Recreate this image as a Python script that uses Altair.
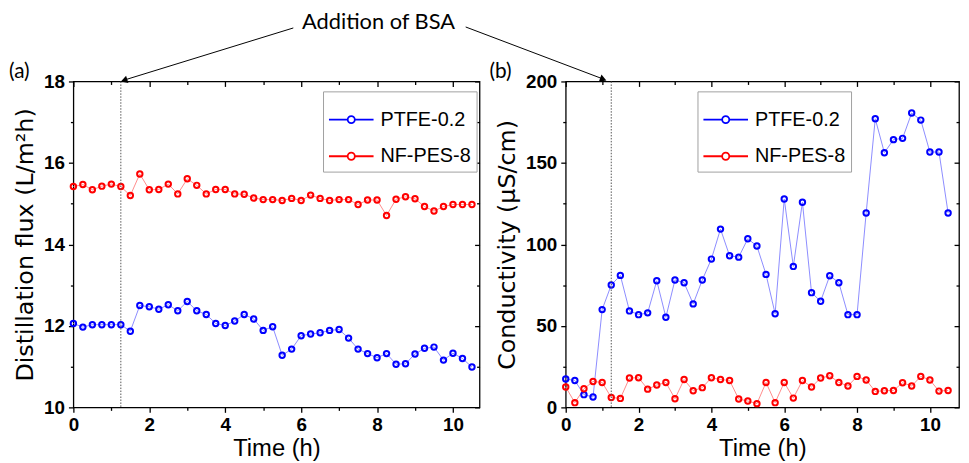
import altair as alt
import pandas as pd

# ---------------- data ----------------
time_h = [0.0, 0.25, 0.5, 0.75, 1.0, 1.25, 1.5, 1.75, 2.0, 2.25, 2.5, 2.75,
          3.0, 3.25, 3.5, 3.75, 4.0, 4.25, 4.5, 4.75, 5.0, 5.25, 5.5, 5.75,
          6.0, 6.25, 6.5, 6.75, 7.0, 7.25, 7.5, 7.75, 8.0, 8.25, 8.5, 8.75,
          9.0, 9.25, 9.5, 9.75, 10.0, 10.25, 10.5]

flux_ptfe = [12.06, 11.97, 12.03, 12.03, 12.03, 12.03, 11.87, 12.50, 12.47, 12.41,
             12.52, 12.37, 12.60, 12.37, 12.28, 12.06, 12.01, 12.12, 12.28, 12.17,
             11.89, 11.98, 11.28, 11.43, 11.76, 11.80, 11.83, 11.89, 11.91, 11.70,
             11.43, 11.32, 11.22, 11.32, 11.06, 11.07, 11.31, 11.45, 11.48, 11.16,
             11.33, 11.20, 10.99]

flux_nfpes = [15.42, 15.47, 15.34, 15.43, 15.48, 15.42, 15.20, 15.73, 15.34, 15.35,
              15.48, 15.24, 15.61, 15.45, 15.24, 15.35, 15.35, 15.24, 15.23, 15.14,
              15.10, 15.10, 15.08, 15.13, 15.08, 15.21, 15.13, 15.08, 15.10, 15.10,
              14.98, 15.09, 15.09, 14.71, 15.11, 15.17, 15.12, 14.93, 14.82, 14.93,
              14.98, 14.98, 14.98]

cond_ptfe = [17.4, 16.5, 7.8, 6.4, 60.0, 75.1, 81.0, 59.2, 56.9, 58.0,
             77.7, 55.3, 78.2, 76.5, 63.5, 78.2, 91.0, 109.4, 93.0, 92.2,
             103.5, 99.0, 81.6, 57.5, 127.9, 86.5, 125.9, 70.4, 65.1, 80.8,
             76.5, 56.9, 56.9, 119.3, 177.1, 156.3, 164.3, 165.1, 180.6, 176.3,
             156.7, 156.7, 119.3]

cond_nfpes = [12.5, 2.9, 11.4, 15.9, 15.3, 6.1, 5.5, 18.0, 18.2, 11.2,
              13.7, 15.3, 5.3, 17.1, 10.2, 12.1, 18.2, 17.1, 16.5, 5.1,
              3.9, 2.3, 15.3, 2.9, 15.3, 5.7, 16.5, 12.5, 18.0, 19.4,
              15.3, 13.1, 19.0, 16.8, 9.8, 10.2, 10.4, 15.1, 13.1, 19.0,
              16.8, 10.0, 10.4]

series_names = ["PTFE-0.2", "NF-PES-8"]
point_colors = ["#0000ff", "#ff0000"]
line_colors = ["#8c8cff", "#ff8c8c"]
bsa_time = [1.25]

x_major = [0, 2, 4, 6, 8, 10]
x_minor = [1, 3, 5, 7, 9]
flux_major = [10, 12, 14, 16, 18]
flux_minor = [11, 13, 15, 17]
cond_major = [0, 50, 100, 150, 200]
cond_minor = [25, 75, 125, 175]

LEGEND_SYMBOL = ("M-1,0L-0.16,0M0.16,0L1,0"
                 "M-0.16,0A0.16,0.16 0 1,0 0.16,0A0.16,0.16 0 1,0 -0.16,0")

H = 329


def long_df(a, b):
    return pd.DataFrame({
        "time": time_h + time_h,
        "value": a + b,
        "series": [series_names[0]] * len(a) + [series_names[1]] * len(b),
    })


def panel(df, xdom, ydom, w, ymaj, ymin, ytitle, legx, legy, extra):
    xs = alt.Scale(domain=xdom, nice=False, zero=False)
    ys = alt.Scale(domain=ydom, nice=False, zero=False)
    base = alt.Chart(df)

    lines = base.mark_line(strokeWidth=1).encode(
        x=alt.X("time:Q", scale=xs, axis=None),
        y=alt.Y("value:Q", scale=ys, axis=None),
        color=alt.Color("series:N", sort=series_names,
                        scale=alt.Scale(domain=series_names, range=line_colors),
                        legend=None),
    )
    pts = base.mark_point(filled=False, size=30, strokeWidth=2, opacity=1).encode(
        x=alt.X("time:Q", scale=xs,
                axis=alt.Axis(values=x_major, title="Time (h)", orient="bottom",
                              tickSize=5, labelPadding=3, titlePadding=3,
                              format="d", labelFlush=False)),
        y=alt.Y("value:Q", scale=ys,
                axis=alt.Axis(values=ymaj, title=ytitle, orient="left",
                              tickSize=5, labelPadding=4, titlePadding=6,
                              titleFont="DejaVu Sans", titleFontSize=24,
                              format="d", labelFlush=False)),
        color=alt.Color("series:N", sort=series_names,
                        scale=alt.Scale(domain=series_names, range=point_colors),
                        legend=alt.Legend(title=None, orient="none",
                                          legendX=legx, legendY=legy,
                                          symbolType=LEGEND_SYMBOL,
                                          symbolSize=2025, symbolStrokeWidth=1.8,
                                          labelFont="Liberation Sans",
                                          labelFontSize=20, labelColor="black",
                                          labelOffset=6, rowPadding=3,
                                          padding=5, strokeColor="#a0a0a0",
                                          fillColor="white")),
    )
    minor_out = base.mark_point(opacity=0).encode(
        x=alt.X("time:Q", scale=xs,
                axis=alt.Axis(values=x_minor, orient="bottom", tickSize=3,
                              labels=False, title=None)),
        y=alt.Y("value:Q", scale=ys,
                axis=alt.Axis(values=ymin, orient="left", tickSize=3,
                              labels=False, title=None)),
    )
    major_in = base.mark_point(opacity=0).encode(
        x=alt.X("time:Q", scale=xs,
                axis=alt.Axis(values=x_major, orient="top", tickSize=5, offset=-5,
                              labels=False, title=None)),
        y=alt.Y("value:Q", scale=ys,
                axis=alt.Axis(values=ymaj, orient="right", tickSize=5, offset=-5,
                              labels=False, title=None)),
    )
    minor_in = base.mark_point(opacity=0).encode(
        x=alt.X("time:Q", scale=xs,
                axis=alt.Axis(values=x_minor, orient="top", tickSize=3, offset=-3,
                              labels=False, title=None)),
        y=alt.Y("value:Q", scale=ys,
                axis=alt.Axis(values=ymin, orient="right", tickSize=3, offset=-3,
                              labels=False, title=None)),
    )
    bsa = alt.Chart(pd.DataFrame({"t": bsa_time})).mark_rule(
        color="#555555", strokeWidth=1, strokeDash=[1.5, 1.5]
    ).encode(x=alt.X("t:Q", scale=xs, axis=None))

    layers = [lines, pts, minor_out, major_in, minor_in, bsa] + extra
    return alt.layer(*layers).resolve_scale(color="independent").resolve_axis(
        x="independent", y="independent").properties(width=w, height=H)


ann = alt.Chart(pd.DataFrame({"k": [0]}))
left_extra = [
    ann.mark_text(text="(a)", font="Lato", fontSize=21, align="left",
                  baseline="top", color="black").encode(
        x=alt.value(-65), y=alt.value(-20)),
    ann.mark_text(text="Addition of BSA", font="Lato", fontSize=22,
                  align="center", baseline="middle", color="black").encode(
        x=alt.value(308), y=alt.value(-60)),
    ann.mark_rule(color="black", strokeWidth=1).encode(
        x=alt.value(222), y=alt.value(-54), x2=alt.value(50), y2=alt.value(-1)),
    ann.mark_rule(color="black", strokeWidth=1).encode(
        x=alt.value(396), y=alt.value(-55), x2=alt.value(536), y2=alt.value(-2)),
    ann.mark_point(shape="triangle-up", filled=True, size=60, angle=252,
                   color="black", opacity=1).encode(
        x=alt.value(51.2), y=alt.value(-1.0)),
    ann.mark_point(shape="triangle-up", filled=True, size=60, angle=110,
                   color="black", opacity=1).encode(
        x=alt.value(534.9), y=alt.value(-2.2)),
]
right_extra = [
    ann.mark_text(text="(b)", font="Lato", fontSize=21, align="left",
                  baseline="top", color="black").encode(
        x=alt.value(-77), y=alt.value(-20)),
]

left = panel(long_df(flux_ptfe, flux_nfpes), [0, 10.7], [10, 18], 410,
             flux_major, flux_minor, "Distillation flux (L/m²h)", 252, 10,
             left_extra)
right = panel(long_df(cond_ptfe, cond_nfpes), [0, 10.8], [0, 200], 397,
              cond_major, cond_minor, "Conductivity (μS/cm)", 133, 10,
              right_extra)

chart = alt.hconcat(left, right, spacing=87, bounds="flush").properties(
    padding={"left": 0, "top": 0, "right": 0, "bottom": 0}
).configure_view(stroke="black", strokeWidth=1.3).configure_axis(
    labelFont="Liberation Sans", labelFontSize=19, labelFontWeight="bold",
    labelColor="black", titleFont="Liberation Sans", titleFontSize=24,
    titleFontWeight="normal", titleColor="black", tickColor="black",
    tickWidth=1.3, domain=False, grid=False
)

chart.save("out.html", embed_options={"renderer": "svg", "actions": False})
